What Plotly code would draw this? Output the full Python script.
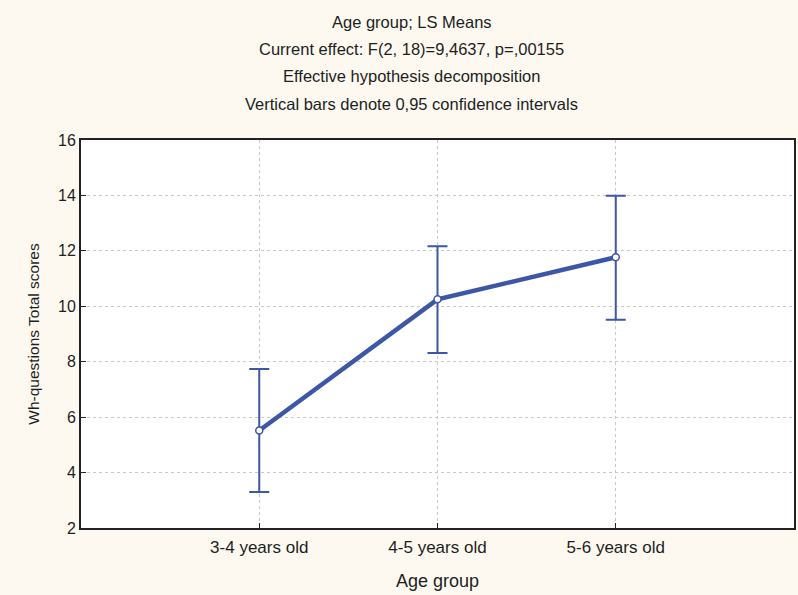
import plotly.graph_objects as go

# LS means with 0.95 confidence intervals
groups = ["3-4 years old", "4-5 years old", "5-6 years old"]
means = [5.52, 10.25, 11.77]
ci_upper = [7.74, 12.17, 13.99]
ci_lower = [3.30, 8.31, 9.51]

err_plus = [u - m for u, m in zip(ci_upper, means)]
err_minus = [m - l for m, l in zip(means, ci_lower)]

title_lines = [
    "Age group; LS Means",
    "Current effect: F(2, 18)=9,4637, p=,00155",
    "Effective hypothesis decomposition",
    "Vertical bars denote 0,95 confidence intervals",
]

line_color = "#3d56a6"
font_family = "Liberation Sans, Arial, sans-serif"

fig = go.Figure()
fig.add_trace(go.Scatter(
    x=list(range(len(groups))),
    y=means,
    mode="lines+markers",
    line=dict(color=line_color, width=4.5),
    marker=dict(symbol="circle", size=7, color="white",
                line=dict(color=line_color, width=1.5)),
    error_y=dict(type="data", symmetric=False, array=err_plus,
                 arrayminus=err_minus, color=line_color,
                 thickness=2, width=10),
    showlegend=False,
))

annotations = []
for i, txt in enumerate(title_lines):
    annotations.append(dict(
        text=txt, xref="paper", yref="paper", x=0.464, y=1.0,
        yshift=118 - i * 27.2, showarrow=False,
        font=dict(size=16.5, color="#1e1e1e", family=font_family),
        xanchor="center", yanchor="middle",
    ))

fig.update_layout(
    width=798, height=595,
    margin=dict(l=81, r=2, t=140, b=67),
    paper_bgcolor="#fdf9f1",
    plot_bgcolor="white",
    font=dict(family=font_family, size=16, color="#1e1e1e"),
    annotations=annotations,
    xaxis=dict(
        range=[-1, 3],
        tickmode="array", tickvals=list(range(len(groups))), ticktext=groups,
        tickfont=dict(size=17), ticklabelstandoff=3,
        showline=True, linecolor="#222", linewidth=2, mirror=True,
        ticks="inside", ticklen=5, tickcolor="#222",
        showgrid=True, gridcolor="#c8c8c8", griddash="dot", gridwidth=1,
        zeroline=False,
        title=dict(text="Age group", standoff=18, font=dict(size=18)),
    ),
    yaxis=dict(
        range=[2, 16], dtick=2,
        tickfont=dict(size=16),
        showline=True, linecolor="#222", linewidth=2, mirror=True,
        ticks="inside", ticklen=5, tickcolor="#222",
        showgrid=True, gridcolor="#c8c8c8", griddash="dot", gridwidth=1,
        zeroline=False,
        title=dict(text="Wh-questions Total scores", standoff=15, font=dict(size=15.5)),
    ),
)

fig.write_html("out.html")
